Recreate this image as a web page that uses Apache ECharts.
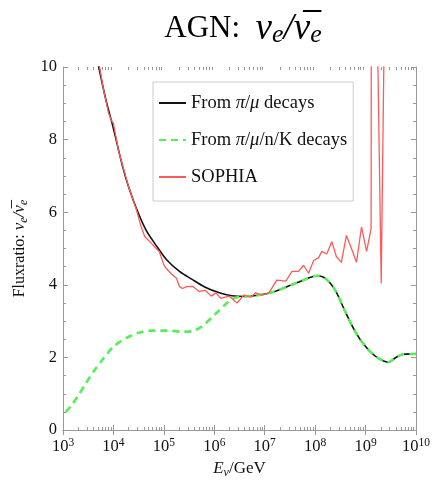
<!DOCTYPE html>
<html>
<head>
<meta charset="utf-8">
<script src="https://cdn.jsdelivr.net/npm/echarts@6/dist/echarts.min.js"></script>
<style>
  html, body { margin: 0; padding: 0; background: #fff; }
  #chart { width: 433px; height: 484px; }
</style>
</head>
<body>
<div id="chart"></div>
<script>
// x values are log10(E / GeV)
const piMuLogE = [3.66, 3.71, 3.85, 3.99, 4.18, 4.3, 4.46, 4.65, 4.85, 5.05, 5.31, 5.56, 5.8, 6.1, 6.35, 6.6, 6.9, 7.2, 7.5, 7.8, 8.03, 8.2, 8.4, 8.6, 8.8, 9.0, 9.2, 9.45, 9.6, 9.75, 10]
const piMuRatio = [10.4, 10.0, 9.1, 8.36, 7.27, 6.7, 6.09, 5.5, 5.08, 4.7, 4.37, 4.15, 3.95, 3.78, 3.7, 3.68, 3.72, 3.82, 3.98, 4.15, 4.25, 4.18, 3.85, 3.25, 2.7, 2.3, 2.03, 1.87, 2.0, 2.09, 2.1]

const fullLogE = [3.05, 3.15, 3.3, 3.45, 3.6, 3.79, 4.0, 4.26, 4.5, 4.78, 5.1, 5.35, 5.55, 5.76, 5.95, 6.1, 6.25, 6.4, 6.6, 6.9, 7.2, 7.5, 7.8, 8.03, 8.2, 8.4, 8.6, 8.8, 9.0, 9.2, 9.45, 9.6, 9.75, 10]
const fullRatio = [0.5, 0.65, 0.95, 1.28, 1.6, 1.95, 2.3, 2.54, 2.68, 2.74, 2.74, 2.71, 2.72, 2.86, 3.1, 3.3, 3.5, 3.64, 3.68, 3.72, 3.82, 3.98, 4.15, 4.25, 4.18, 3.85, 3.25, 2.7, 2.3, 2.03, 1.87, 2.0, 2.09, 2.1]

const sophiaLogE = [3.66, 3.7, 3.8, 3.9, 3.95, 4.0, 4.1, 4.2, 4.3, 4.45, 4.55, 4.62, 4.75, 4.85, 4.91, 5.0, 5.05, 5.15, 5.25, 5.31, 5.37, 5.45, 5.57, 5.7, 5.82, 5.94, 6.03, 6.13, 6.29, 6.45, 6.59, 6.72, 6.82, 6.95, 7.08, 7.24, 7.42, 7.54, 7.67, 7.77, 7.87, 7.97, 8.07, 8.13, 8.23, 8.33, 8.42, 8.52, 8.62, 8.72, 8.82, 8.92, 9.02, 9.11, 9.13, 9.24, 9.31, 9.37, 9.4]
const sophiaRatio = [10.4, 10.2, 9.4, 8.75, 8.55, 8.45, 7.7, 7.2, 6.7, 6.1, 5.6, 5.33, 5.15, 5.0, 4.92, 4.55, 4.45, 4.3, 4.18, 3.95, 3.9, 3.95, 3.96, 3.82, 3.85, 3.69, 3.78, 3.63, 3.69, 3.5, 3.72, 3.66, 3.78, 3.72, 3.77, 4.13, 4.1, 4.37, 4.37, 4.54, 4.32, 4.67, 4.75, 4.92, 4.85, 5.19, 4.78, 4.62, 5.36, 5.0, 4.62, 5.6, 4.92, 5.55, 40, 10.5, 4.04, 11, 40]

const xTickExps = [3, 4, 5, 6, 7, 8, 9, 10]
const xMinorMults = [2, 3, 4, 5, 6, 7, 8, 9]

const serif = '"Liberation Serif", "DejaVu Serif", serif'
const toPairs = (xs, ys) => xs.map((x, i) => [Math.pow(10, x), ys[i]])
const majorX = xTickExps.map(e => Math.pow(10, e))
const minorX = []
xTickExps.slice(0, -1).forEach(e => xMinorMults.forEach(m => minorX.push(m * Math.pow(10, e))))

const subRich = {
  n: { fontFamily: serif, fontSize: 18.5, color: '#111', lineHeight: 22 },
  i: { fontFamily: serif, fontSize: 18.5, fontStyle: 'italic', color: '#111', lineHeight: 22 },
}
const legendText = {
  'From π/μ decays': 'From {i|π}/{i|μ} decays',
  'From π/μ/n/K decays': 'From {i|π}/{i|μ}/n/K decays',
  'SOPHIA': 'SOPHIA',
}

const frameColor = '#999'
const xAxisBase = {
  type: 'log', logBase: 10, min: 1e3, max: 1e10,
  axisLine: { show: true, lineStyle: { color: frameColor, width: 1 } },
  splitLine: { show: false },
}
const yAxisBase = {
  type: 'value', min: 0, max: 10, interval: 2,
  axisLine: { show: true, lineStyle: { color: frameColor, width: 1 } },
  axisTick: { show: true, inside: true, length: 5, lineStyle: { color: frameColor } },
  minorTick: { show: true, splitNumber: 4, length: 3, lineStyle: { color: frameColor } },
  splitLine: { show: false },
}

const chart = echarts.init(document.getElementById('chart'))
chart.setOption({
  backgroundColor: '#fff',
  animation: false,
  title: {
    text: '{n|AGN:  }{i|ν}{s|e}{i|/ν\u0305}{s|e}',
    left: 238, top: 5, textAlign: 'center',
    textStyle: {
      fontWeight: 'normal',
      rich: {
        n: { fontFamily: serif, fontSize: 31, fontWeight: 'normal', color: '#000', lineHeight: 38 },
        i: { fontFamily: serif, fontSize: 37, fontWeight: 'normal', fontStyle: 'italic', color: '#000', lineHeight: 38 },
        s: { fontFamily: serif, fontSize: 26, fontWeight: 'normal', fontStyle: 'italic', color: '#000', lineHeight: 14, verticalAlign: 'bottom' },
      },
    },
  },
  grid: { left: 63, right: 15, top: 67, bottom: 51 },
  legend: {
    orient: 'vertical', left: 153, top: 82,
    padding: [10, 6, 13, 5], itemGap: 15, itemWidth: 27, itemHeight: 14,
    backgroundColor: '#fff', borderColor: '#ccc', borderWidth: 1,
    itemStyle: { opacity: 0 },
    data: ['From π/μ decays', 'From π/μ/n/K decays', 'SOPHIA'],
    formatter: name => legendText[name],
    textStyle: { fontFamily: serif, fontSize: 18.5, color: '#111', lineHeight: 22, rich: subRich },
  },
  xAxis: [
    {
      ...xAxisBase, position: 'bottom',
      name: '{i|E}{s|ν}{n|/GeV}', nameLocation: 'middle', nameGap: 25,
      nameTextStyle: {
        rich: {
          n: { fontFamily: serif, fontSize: 17, color: '#111', lineHeight: 20 },
          i: { fontFamily: serif, fontSize: 17, fontStyle: 'italic', color: '#111', lineHeight: 20 },
          s: { fontFamily: serif, fontSize: 12, fontStyle: 'italic', color: '#111', lineHeight: 8, verticalAlign: 'bottom' },
        },
      },
      axisTick: { show: true, inside: true, length: 5, customValues: majorX, lineStyle: { color: frameColor } },
      axisLabel: {
        customValues: majorX, margin: 7,
        formatter: v => '{b|10}{s|' + Math.round(Math.log10(v)) + '}',
        rich: {
          b: { fontFamily: serif, fontSize: 16.5, color: '#111', lineHeight: 20 },
          s: { fontFamily: serif, fontSize: 11.5, color: '#111', lineHeight: 11, verticalAlign: 'top' },
        },
      },
    },
    {
      ...xAxisBase, position: 'top',
      axisTick: { show: true, inside: true, length: 5, customValues: majorX, lineStyle: { color: frameColor } },
      axisLabel: { show: false },
    },
    {
      ...xAxisBase, position: 'bottom', axisLine: { show: false },
      axisTick: { show: true, inside: true, length: 3, customValues: minorX, lineStyle: { color: frameColor } },
      axisLabel: { show: false },
    },
    {
      ...xAxisBase, position: 'top', axisLine: { show: false },
      axisTick: { show: true, inside: true, length: 3, customValues: minorX, lineStyle: { color: frameColor } },
      axisLabel: { show: false },
    },
  ],
  yAxis: [
    {
      ...yAxisBase, position: 'left',
      name: '{n|Fluxratio: }{i|ν}{s|e}{i|/ν\u0305}{s|e}',
      nameLocation: 'middle', nameRotate: 90, nameGap: 33,
      nameTextStyle: {
        rich: {
          n: { fontFamily: serif, fontSize: 16, color: '#111', lineHeight: 20 },
          i: { fontFamily: serif, fontSize: 17, fontStyle: 'italic', color: '#111', lineHeight: 20 },
          s: { fontFamily: serif, fontSize: 12, fontStyle: 'italic', color: '#111', lineHeight: 8, verticalAlign: 'bottom' },
        },
      },
      axisLabel: { margin: 6, fontFamily: serif, fontSize: 16.5, color: '#111' },
    },
    { ...yAxisBase, position: 'right', axisLabel: { show: false } },
  ],
  series: [
    {
      name: 'From π/μ decays', type: 'line', smooth: 0.3, symbol: 'none',
      lineStyle: { color: '#111', width: 1.6 }, itemStyle: { color: '#111' },
      data: toPairs(piMuLogE, piMuRatio),
    },
    {
      name: 'From π/μ/n/K decays', type: 'line', smooth: 0.3, symbol: 'none',
      lineStyle: { color: '#55ee55', width: 2.6, type: [7, 5] }, itemStyle: { color: '#55ee55' },
      data: toPairs(fullLogE, fullRatio),
    },
    {
      name: 'SOPHIA', type: 'line', symbol: 'none',
      lineStyle: { color: '#ff5a5a', width: 1.3 }, itemStyle: { color: '#ff5a5a' },
      data: toPairs(sophiaLogE, sophiaRatio),
    },
  ],
})
</script>
</body>
</html>
